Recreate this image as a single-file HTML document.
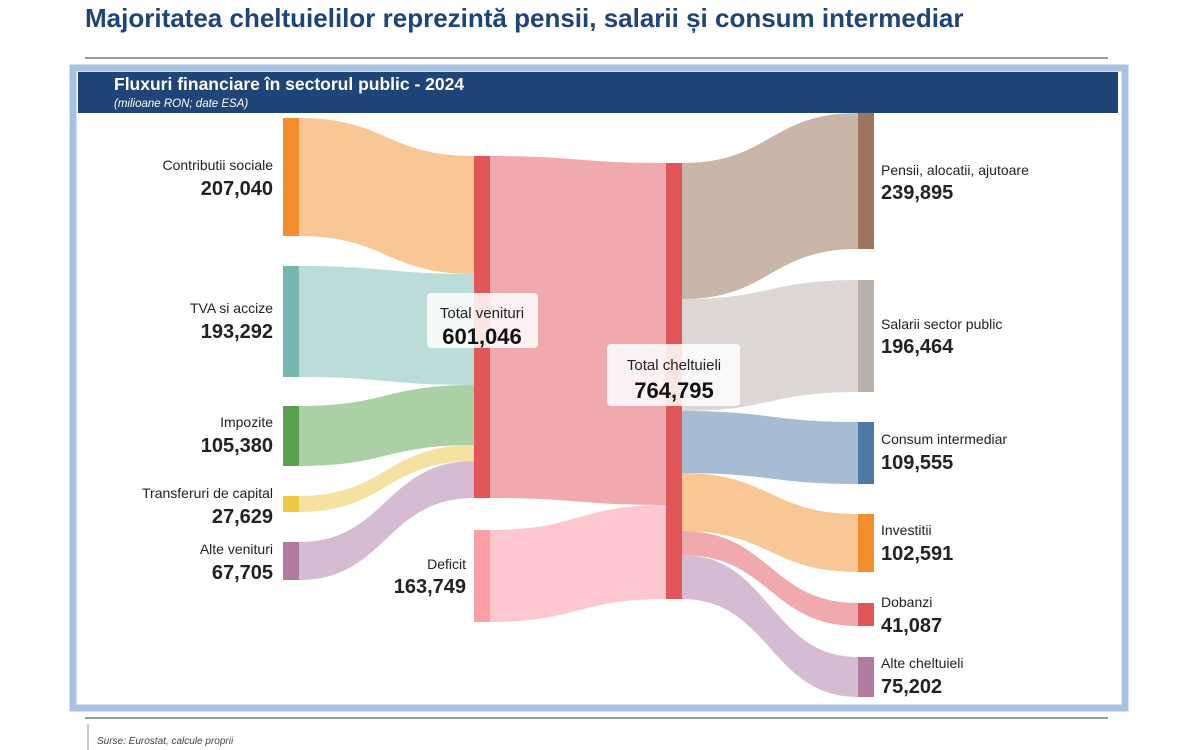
<!DOCTYPE html>
<html><head><meta charset="utf-8">
<style>
body{margin:0;width:1200px;height:750px;background:#fff;overflow:hidden;font-family:"Liberation Sans",Arial,sans-serif;}
</style></head><body>
<svg width="1200" height="750" xmlns="http://www.w3.org/2000/svg" style="position:absolute;left:0;top:0;font-family:'Liberation Sans',Arial,sans-serif">
<text x="85" y="27" font-size="26" font-weight="bold" fill="#1f4478">Majoritatea cheltuielilor reprezintă pensii, salarii și consum intermediar</text>
<line x1="85" y1="58" x2="1108" y2="58" stroke="#9a9a9a" stroke-width="2"/>
<rect x="73" y="68" width="1052" height="640" fill="#fff" stroke="#a9c1e0" stroke-width="7"/>
<rect x="78" y="72" width="1040" height="41" fill="#1f4478"/>
<text x="114" y="90" font-size="17.5" font-weight="bold" fill="#fff">Fluxuri financiare în sectorul public - 2024</text>
<text x="114" y="107" font-size="11.5" font-style="italic" fill="#fff">(milioane RON; date ESA)</text>
<line x1="85" y1="718" x2="1108" y2="718" stroke="#9a9a9a" stroke-width="2"/>
<line x1="88" y1="724" x2="88" y2="750" stroke="#9a9a9a" stroke-width="1"/>
<text x="97" y="744" font-size="10" font-style="italic" fill="#444">Surse: Eurostat, calcule proprii</text>

<path d="M299,118 C386,118 386,156 474,156 L474,274 C386,274 386,236 299,236Z" fill="#f8c795"/>
<path d="M299,266 C386,266 386,274 474,274 L474,385 C386,385 386,377 299,377Z" fill="#bbdcd8"/>
<path d="M299,406 C386,406 386,385 474,385 L474,445 C386,445 386,466 299,466Z" fill="#acd0a5"/>
<path d="M299,496 C386,496 386,445 474,445 L474,461 C386,461 386,512 299,512Z" fill="#f5e1a0"/>
<path d="M299,542 C386,542 386,461 474,461 L474,498 C386,498 386,580 299,580Z" fill="#d6bcd2"/>
<path d="M490,156 C578,156 578,163 666,163 L666,505 C578,505 578,498 490,498Z" fill="#f0aaad"/>
<path d="M490,530 C578,530 578,505 666,505 L666,599 C578,599 578,622 490,622Z" fill="#fdc8cf"/>
<path d="M682,163 C770,163 770,113 858,113 L858,249 C770,249 770,299 682,299Z" fill="#c9b6a9"/>
<path d="M682,299 C770,299 770,280 858,280 L858,392 C770,392 770,411 682,411Z" fill="#ddd8d5"/>
<path d="M682,411 C770,411 770,422 858,422 L858,484 C770,484 770,473 682,473Z" fill="#a6bbd4"/>
<path d="M682,473 C770,473 770,514 858,514 L858,572 C770,572 770,531 682,531Z" fill="#f8c795"/>
<path d="M682,531 C770,531 770,603 858,603 L858,626 C770,626 770,555 682,555Z" fill="#f0aaad"/>
<path d="M682,555 C770,555 770,657 858,657 L858,697 C770,697 770,599 682,599Z" fill="#d6bcd2"/>

<rect x="283" y="118" width="16" height="118" fill="#f28e2b"/>
<rect x="283" y="266" width="16" height="111" fill="#76b7b2"/>
<rect x="283" y="406" width="16" height="60" fill="#59a14f"/>
<rect x="283" y="496" width="16" height="16" fill="#edc948"/>
<rect x="283" y="542" width="16" height="38" fill="#b07aa1"/>
<rect x="474" y="156" width="16" height="342" fill="#e15759"/>
<rect x="474" y="530" width="16" height="92" fill="#ff9da7"/>
<rect x="666" y="163" width="16" height="436" fill="#e15759"/>
<rect x="858" y="113" width="16" height="136" fill="#9c755f"/>
<rect x="858" y="280" width="16" height="112" fill="#bab0ac"/>
<rect x="858" y="422" width="16" height="62" fill="#4e79a7"/>
<rect x="858" y="514" width="16" height="58" fill="#f28e2b"/>
<rect x="858" y="603" width="16" height="23" fill="#e15759"/>
<rect x="858" y="657" width="16" height="40" fill="#b07aa1"/>

<g text-anchor="end" fill="#222">
<text x="273" y="170" font-size="14">Contributii sociale</text>
<text x="273" y="195" font-size="20" font-weight="bold">207,040</text>
<text x="273" y="313" font-size="14">TVA si accize</text>
<text x="273" y="338" font-size="20" font-weight="bold">193,292</text>
<text x="273" y="427" font-size="14">Impozite</text>
<text x="273" y="452" font-size="20" font-weight="bold">105,380</text>
<text x="273" y="498" font-size="14">Transferuri de capital</text>
<text x="273" y="523" font-size="20" font-weight="bold">27,629</text>
<text x="273" y="554" font-size="14">Alte venituri</text>
<text x="273" y="579" font-size="20" font-weight="bold">67,705</text>
<text x="466" y="569" font-size="14">Deficit</text>
<text x="466" y="593" font-size="20" font-weight="bold">163,749</text>
</g>
<rect x="427" y="293" width="111" height="55" rx="4" fill="#fff" opacity="0.85"/>
<text x="482" y="318" font-size="15" text-anchor="middle" fill="#222">Total venituri</text>
<text x="482" y="344" font-size="22" font-weight="bold" text-anchor="middle" fill="#111">601,046</text>
<rect x="607" y="344" width="133" height="62" rx="4" fill="#fff" opacity="0.85"/>
<text x="674" y="370" font-size="15" text-anchor="middle" fill="#222">Total cheltuieli</text>
<text x="674" y="398" font-size="22" font-weight="bold" text-anchor="middle" fill="#111">764,795</text>

<g fill="#222">
<text x="881" y="175" font-size="14">Pensii, alocatii, ajutoare</text>
<text x="881" y="199" font-size="20" font-weight="bold">239,895</text>
<text x="881" y="329" font-size="14">Salarii sector public</text>
<text x="881" y="353" font-size="20" font-weight="bold">196,464</text>
<text x="881" y="444" font-size="14">Consum intermediar</text>
<text x="881" y="469" font-size="20" font-weight="bold">109,555</text>
<text x="881" y="535" font-size="14">Investitii</text>
<text x="881" y="560" font-size="20" font-weight="bold">102,591</text>
<text x="881" y="607" font-size="14">Dobanzi</text>
<text x="881" y="632" font-size="20" font-weight="bold">41,087</text>
<text x="881" y="668" font-size="14">Alte cheltuieli</text>
<text x="881" y="693" font-size="20" font-weight="bold">75,202</text>
</g>
</svg>
</body></html>
